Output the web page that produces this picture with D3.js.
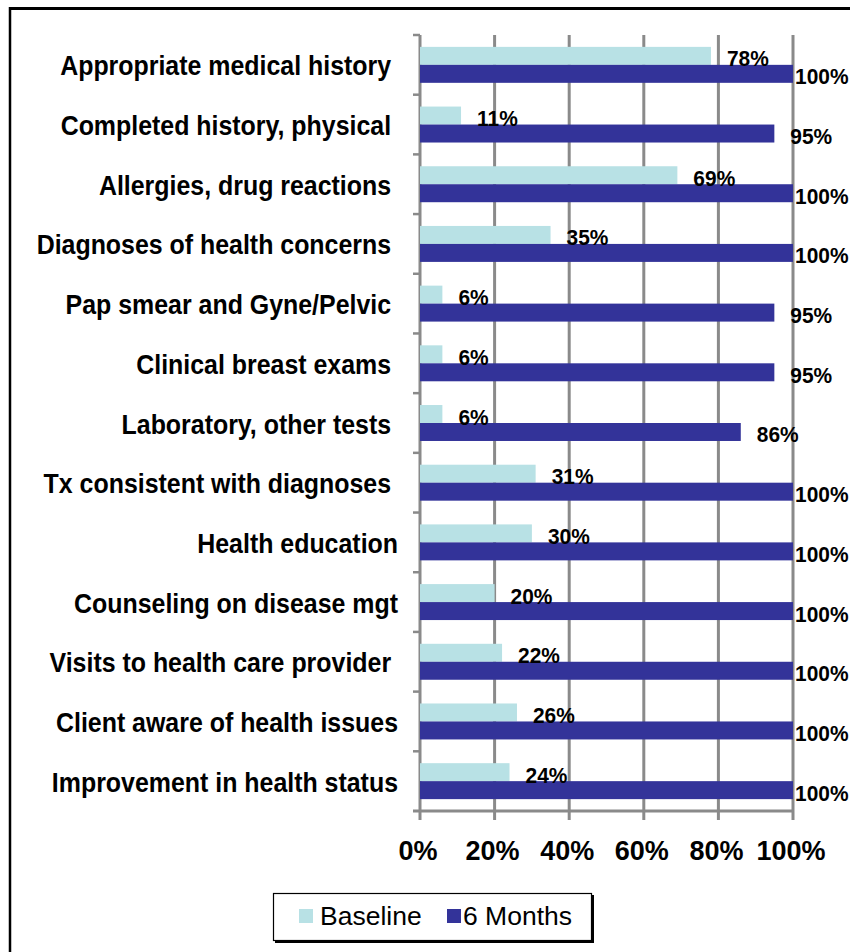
<!DOCTYPE html>
<html>
<head>
<meta charset="utf-8">
<script src="https://cdn.jsdelivr.net/npm/d3@7"></script>
<style>
  html, body { margin: 0; padding: 0; background: #fff; }
  svg { display: block; }
  text { font-family: "Liberation Sans", Arial, sans-serif; white-space: pre; }
</style>
</head>
<body>
<svg id="chart" width="850" height="952"></svg>
<script>
// ---- data ----
const categories = [
  "Appropriate medical history ",
  "Completed history, physical ",
  "Allergies, drug reactions ",
  "Diagnoses of health concerns ",
  "Pap smear and Gyne/Pelvic ",
  "Clinical breast exams ",
  "Laboratory, other tests ",
  "Tx consistent with diagnoses ",
  "Health education",
  "Counseling on disease mgt",
  "Visits to health care provider ",
  "Client aware of health issues",
  "Improvement in health status"
];
const seriesNames = ["Baseline", "6 Months"];
const baseline = [78, 11, 69, 35, 6, 6, 6, 31, 30, 20, 22, 26, 24];
const sixMonths = [100, 95, 100, 100, 95, 95, 86, 100, 100, 100, 100, 100, 100];
const xTicks = [0, 20, 40, 60, 80, 100];
const colors = ["#b8e1e5", "#333399"];

// ---- layout ----
const svg = d3.select("#chart");
const plot = { left: 420, right: 793, top: 35, bottom: 811 };

const x = d3.scaleLinear().domain([0, 100]).range([plot.left, plot.right]);
const y0 = d3.scaleBand().domain(categories).range([plot.top, plot.bottom]).padding(0);
const y1 = d3.scaleBand().domain(seriesNames).range([0, y0.step()]).paddingInner(0).paddingOuter(0.66);

// outer frame (top & left)
svg.append("line").attr("x1", 9).attr("x2", 850).attr("y1", 8.5).attr("y2", 8.5)
  .attr("stroke", "#000").attr("stroke-width", 3);
svg.append("line").attr("x1", 10).attr("x2", 10).attr("y1", 7).attr("y2", 952)
  .attr("stroke", "#000").attr("stroke-width", 2.5);

// vertical gridlines (with tick extension below axis)
svg.append("g").selectAll("line").data(xTicks).join("line")
  .attr("x1", d => x(d)).attr("x2", d => x(d))
  .attr("y1", plot.top).attr("y2", plot.bottom + 9)
  .attr("stroke", "#8a8a8a").attr("stroke-width", 3);

// x axis baseline
svg.append("line").attr("x1", plot.left - 7).attr("x2", plot.right)
  .attr("y1", plot.bottom).attr("y2", plot.bottom)
  .attr("stroke", "#8a8a8a").attr("stroke-width", 3);

// category tick marks
const boundaries = categories.map(c => y0(c));
svg.append("g").selectAll("line").data(boundaries).join("line")
  .attr("x1", plot.left - 7).attr("x2", plot.left)
  .attr("y1", d => d).attr("y2", d => d)
  .attr("stroke", "#8a8a8a").attr("stroke-width", 2.5);

// bars
const rows = categories.map((c, i) => ({ c, vals: [baseline[i], sixMonths[i]] }));
const groups = svg.append("g").selectAll("g").data(rows).join("g")
  .attr("transform", d => `translate(0,${y0(d.c)})`);

groups.selectAll("rect").data(d => d.vals.map((v, j) => ({ v, s: seriesNames[j], j }))).join("rect")
  .attr("x", x(0))
  .attr("y", d => y1(d.s))
  .attr("width", d => x(d.v) - x(0))
  .attr("height", y1.bandwidth())
  .attr("fill", d => colors[d.j]);

// value labels
groups.selectAll("text.val").data(d => d.vals.map((v, j) => ({ v, s: seriesNames[j], j }))).join("text")
  .attr("class", "val")
  .attr("transform", d => {
    const tx = Math.min(x(d.v) + 16, x(100) + 2);
    const ty = y1(d.s) + y1.bandwidth() + 1.5;
    return `translate(${tx},${ty}) scale(0.93,1)`;
  })
  .attr("font-size", 22.5).attr("font-weight", "bold").attr("fill", "#000")
  .text(d => d.v + "%");

// category labels
svg.append("g").selectAll("text").data(categories).join("text")
  .attr("transform", d => `translate(398,${y0(d) + y0.step() / 2 + 10.5}) scale(0.89,1)`)
  .attr("text-anchor", "end")
  .attr("font-size", 28).attr("font-weight", "bold").attr("fill", "#000")
  .text(d => d);

// x tick labels
svg.append("g").selectAll("text").data(xTicks).join("text")
  .attr("x", d => x(d) - 2).attr("y", 860)
  .attr("text-anchor", "middle")
  .attr("font-size", 27).attr("font-weight", "bold").attr("fill", "#000")
  .text(d => d + "%");

// legend
const lg = svg.append("g");
lg.append("rect").attr("x", 275).attr("y", 895).attr("width", 319).attr("height", 48).attr("fill", "#000");
lg.append("rect").attr("x", 273.5).attr("y", 893.5).attr("width", 318).attr("height", 47)
  .attr("fill", "#fff").attr("stroke", "#000").attr("stroke-width", 1.2);
const legendPos = [{ sx: 299, tx: 320 }, { sx: 447, tx: 463 }];
seriesNames.forEach((s, i) => {
  lg.append("rect").attr("x", legendPos[i].sx).attr("y", 909).attr("width", 14).attr("height", 14).attr("fill", colors[i]);
  lg.append("text").attr("x", legendPos[i].tx).attr("y", 925)
    .attr("font-size", 26.5).attr("fill", "#000").text(s);
});
</script>
</body>
</html>
